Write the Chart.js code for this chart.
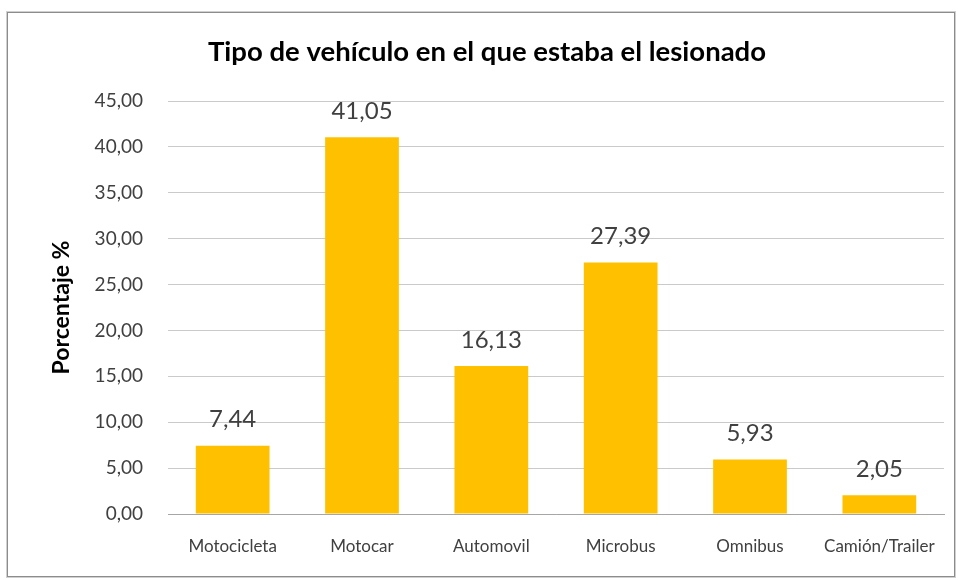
<!DOCTYPE html>
<html>
<head>
<meta charset="utf-8">
<script src="https://cdn.jsdelivr.net/npm/chart.js@4/dist/chart.umd.min.js"></script>
<style>
  html, body { margin: 0; padding: 0; background: #ffffff; }
  #box { position: absolute; left: 7px; top: 12px; width: 946px; height: 563px; border: 1px solid #8c8c8c; box-shadow: 0 0 0 1px #d0d0d0; background: #fff; }
  canvas { display: block; }
</style>
</head>
<body>
<div id="box"><canvas id="c" width="946" height="563"></canvas></div>
<script>
const categories = ["Motocicleta", "Motocar", "Automovil", "Microbus", "Omnibus", "Camión/Trailer"];
const percentages = [7.44, 41.05, 16.13, 27.39, 5.93, 2.05];
const yTickValues = [0, 5, 10, 15, 20, 25, 30, 35, 40, 45];
const chartTitle = "Tipo de vehículo en el que estaba el lesionado";
const yTitle = "Porcentaje %";

const fmt = v => v.toFixed(2).replace('.', ',');

const valueLabels = {
  id: 'valueLabels',
  afterDatasetsDraw(chart) {
    const ctx = chart.ctx;
    const meta = chart.getDatasetMeta(0);
    ctx.save();
    ctx.font = '24px Lato';
    ctx.fillStyle = '#404040';
    ctx.textAlign = 'center';
    ctx.textBaseline = 'bottom';
    meta.data.forEach((bar, i) => {
      ctx.fillText(fmt(percentages[i]), bar.x, bar.y - 14);
    });
    ctx.restore();
  }
};

new Chart(document.getElementById('c'), {
  type: 'bar',
  data: {
    labels: categories,
    datasets: [{
      data: percentages,
      backgroundColor: '#FFC000',
      borderWidth: 0,
      categoryPercentage: 0.57,
      barPercentage: 1.0
    }]
  },
  options: {
    responsive: false,
    animation: false,
    layout: { padding: { left: 22, right: 10, top: 0, bottom: 0 } },
    plugins: {
      legend: { display: false },
      tooltip: { enabled: false },
      title: {
        display: true,
        text: chartTitle,
        color: '#000000',
        font: { family: 'Lato', size: 27.5, weight: 'bold', lineHeight: 1.2 },
        padding: { top: 22.5, bottom: 32.5 }
      }
    },
    scales: {
      x: {
        grid: { display: false, drawTicks: false },
        border: { display: true, color: '#a6a6a6', width: 1 },
        ticks: { color: '#404040', font: { family: 'Lato', size: 17 }, padding: 22, maxRotation: 0 },
        afterFit(scale) { scale.height = 62; scale.paddingLeft = 0; scale.paddingRight = 0; }
      },
      y: {
        min: 0,
        max: 45,
        afterBuildTicks(scale) { scale.ticks = yTickValues.map(v => ({ value: v })); },
        grid: { color: '#cacaca', lineWidth: 1, drawTicks: false },
        border: { display: false },
        ticks: {
          color: '#404040',
          font: { family: 'Lato', size: 19 },
          padding: 25,
          callback: v => fmt(v)
        },
        title: {
          display: true,
          text: yTitle,
          color: '#000000',
          font: { family: 'Lato', size: 23, weight: 'bold' },
          padding: { top: 18, bottom: 10 }
        },
        afterFit(scale) { scale.width = 138; }
      }
    }
  },
  plugins: [valueLabels]
});
</script>
</body>
</html>
